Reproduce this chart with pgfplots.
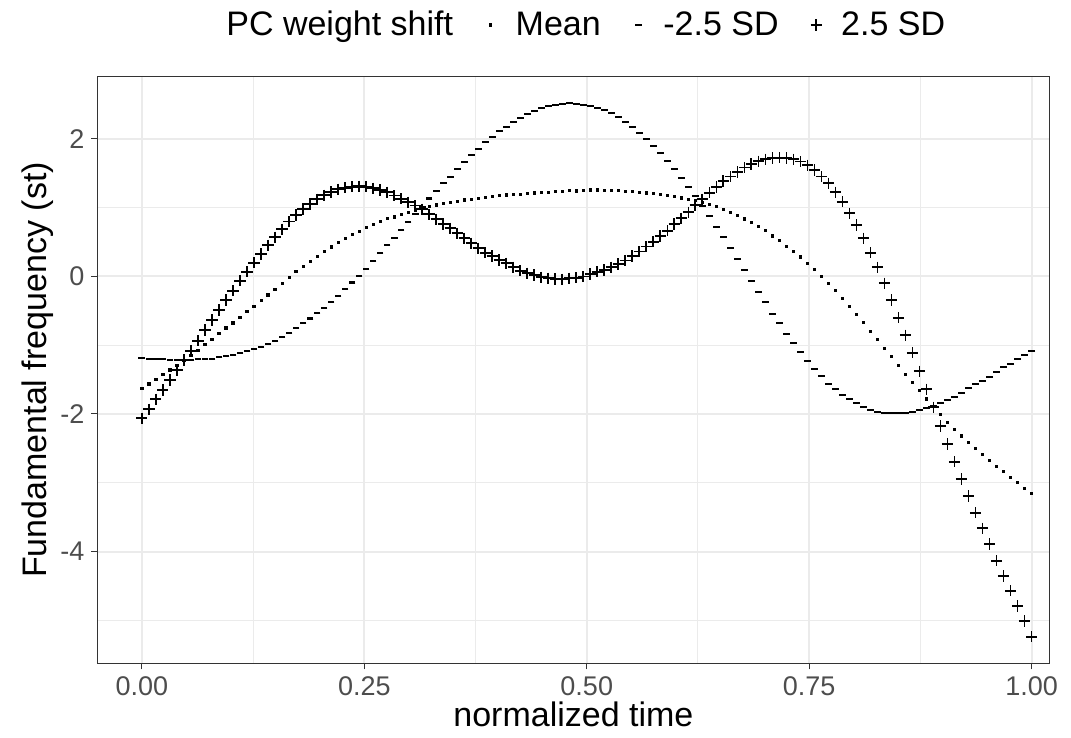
\documentclass[border=0pt]{standalone}
\usepackage{fontspec}
\setmainfont{Liberation Sans}
\usepackage{pgfplots}
\usepackage{pgfplotstable}
\pgfplotsset{compat=1.18}

\definecolor{gridcol}{HTML}{EBEBEB}
\definecolor{framecol}{HTML}{333333}
\definecolor{tickcol}{HTML}{4D4D4D}

% fitted PC curves, 128 samples on normalized time
\pgfplotstableread{
x      mean    minus   plus
0.0000 -1.628  -1.192  -2.064
0.0079 -1.565  -1.197  -1.933
0.0157 -1.495  -1.202  -1.788
0.0236 -1.430  -1.207  -1.653
0.0315 -1.362  -1.217  -1.507
0.0394 -1.290  -1.217  -1.362
0.0472 -1.217  -1.217  -1.217
0.0551 -1.147  -1.212  -1.081
0.0630 -1.072  -1.207  -0.936
0.0709 -0.992  -1.202  -0.781
0.0787 -0.916  -1.197  -0.635
0.0866 -0.834  -1.178  -0.490
0.0945 -0.751  -1.158  -0.344
0.1024 -0.677  -1.144  -0.209
0.1102 -0.592  -1.120  -0.064
0.1181 -0.507  -1.081   0.067
0.1260 -0.432  -1.062   0.198
0.1339 -0.350  -1.023   0.324
0.1417 -0.270  -0.989   0.450
0.1496 -0.185  -0.936   0.567
0.1575 -0.098  -0.878   0.683
0.1654 -0.013  -0.819   0.794
0.1732  0.068  -0.756   0.891
0.1811  0.147  -0.684   0.978
0.1890  0.219  -0.614   1.051
0.1969  0.291  -0.538   1.119
0.2047  0.356  -0.465   1.177
0.2126  0.428  -0.369   1.225
0.2205  0.489  -0.286   1.264
0.2283  0.550  -0.189   1.288
0.2362  0.606  -0.090   1.302
0.2441  0.656   0.004   1.308
0.2520  0.705   0.108   1.302
0.2598  0.753   0.227   1.279
0.2677  0.794   0.334   1.254
0.2756  0.836   0.450   1.221
0.2835  0.862   0.552   1.172
0.2913  0.901   0.673   1.128
0.2992  0.931   0.785   1.076
0.3071  0.964   0.901   1.027
0.3150  0.993   1.012   0.974
0.3228  1.017   1.131   0.903
0.3307  1.036   1.244   0.828
0.3386  1.056   1.352   0.760
0.3465  1.073   1.448   0.698
0.3543  1.090   1.555   0.625
0.3622  1.109   1.666   0.552
0.3701  1.122   1.763   0.480
0.3780  1.129   1.850   0.407
0.3858  1.146   1.948   0.343
0.3937  1.162   2.029   0.295
0.4016  1.175   2.112   0.237
0.4094  1.182   2.174   0.189
0.4173  1.189   2.247   0.131
0.4252  1.193   2.305   0.081
0.4331  1.202   2.359   0.044
0.4409  1.211   2.403   0.019
0.4488  1.214   2.442  -0.015
0.4567  1.223   2.475  -0.029
0.4646  1.228   2.494  -0.039
0.4724  1.233   2.509  -0.044
0.4803  1.243   2.514  -0.029
0.4882  1.242   2.504  -0.020
0.4961  1.245   2.494  -0.005
0.5039  1.254   2.475   0.033
0.5118  1.255   2.442   0.067
0.5197  1.253   2.413   0.092
0.5276  1.250   2.369   0.131
0.5354  1.245   2.311   0.179
0.5433  1.233   2.238   0.228
0.5512  1.231   2.166   0.295
0.5591  1.223   2.087   0.358
0.5669  1.211   1.991   0.431
0.5748  1.201   1.898   0.503
0.5827  1.192   1.797   0.586
0.5906  1.172   1.680   0.663
0.5984  1.160   1.560   0.760
0.6063  1.138   1.433   0.843
0.6142  1.116   1.302   0.930
0.6220  1.104   1.172   1.036
0.6299  1.071   1.022   1.119
0.6378  1.046   0.876   1.215
0.6457  1.010   0.721   1.298
0.6535  0.976   0.567   1.385
0.6614  0.932   0.416   1.448
0.6693  0.884   0.251   1.516
0.6772  0.833   0.087   1.579
0.6850  0.784  -0.064   1.632
0.6929  0.722  -0.228   1.671
0.7008  0.662  -0.378   1.701
0.7087  0.588  -0.544   1.719
0.7165  0.520  -0.684   1.724
0.7244  0.440  -0.839   1.719
0.7323  0.364  -0.974   1.701
0.7402  0.281  -1.105   1.666
0.7480  0.189  -1.235   1.613
0.7559  0.097  -1.352   1.545
0.7638 -0.003  -1.453   1.448
0.7717 -0.105  -1.561   1.352
0.7795 -0.211  -1.642   1.221
0.7874 -0.319  -1.721   1.084
0.7953 -0.436  -1.788   0.916
0.8031 -0.550  -1.846   0.746
0.8110 -0.672  -1.895   0.552
0.8189 -0.800  -1.943   0.343
0.8268 -0.919  -1.968   0.131
0.8346 -1.045  -1.987  -0.102
0.8425 -1.168  -1.991  -0.344
0.8504 -1.297  -1.991  -0.602
0.8583 -1.423  -1.987  -0.858
0.8661 -1.541  -1.972  -1.110
0.8740 -1.662  -1.943  -1.381
0.8819 -1.781  -1.919  -1.642
0.8898 -1.895  -1.885  -1.904
0.8976 -2.011  -1.846  -2.176
0.9055 -2.118  -1.798  -2.437
0.9134 -2.223  -1.750  -2.695
0.9213 -2.319  -1.692  -2.946
0.9291 -2.411  -1.628  -3.193
0.9370 -2.503  -1.570  -3.436
0.9449 -2.590  -1.517  -3.663
0.9528 -2.675  -1.459  -3.891
0.9606 -2.765  -1.395  -4.134
0.9685 -2.840  -1.323  -4.356
0.9764 -2.920  -1.270  -4.570
0.9843 -2.997  -1.202  -4.792
0.9921 -3.077  -1.144  -5.010
1.0000 -3.160  -1.081  -5.238
}\curves

\begin{document}
\begin{tikzpicture}
% page frame: panel lower left sits at (0,0)
\path[use as bounding box] (-48.7pt,-37.3pt) rectangle ++(535.5pt,369pt);
\begin{axis}[
  scale only axis, width=476pt, height=293.4pt,
  xmin=-0.05, xmax=1.02, ymin=-5.626, ymax=2.902,
  axis line style={framecol, line width=0.65pt},
  xtick={0,0.25,0.5,0.75,1}, xticklabels={0.00,0.25,0.50,0.75,1.00},
  ytick={-4,-2,0,2}, yticklabels={-4,-2,0,2},
  minor xtick={0.125,0.375,0.625,0.875}, minor ytick={-5,-3,-1,1},
  grid=both,
  major grid style={gridcol, line width=1pt},
  minor grid style={gridcol, line width=0.5pt},
  tick align=outside, major tick length=3pt, minor tick length=0pt,
  xtick pos=bottom, ytick pos=left,
  tick style={framecol, line width=0.6pt},
  ticklabel style={font=\fontsize{13.5}{16}\selectfont, color=tickcol},
  xlabel={normalized time}, ylabel={Fundamental frequency (st)},
  label style={font=\fontsize{17}{20}\selectfont},
  xlabel style={at={(axis description cs:0.5,-0.086)}, anchor=center},
  ylabel style={at={(axis description cs:-0.0624,0.5)}, anchor=center},
  legend image code/.code={%
    \path[draw=none, fill=none] (-4.8pt,-1pt) rectangle (10.5pt,1pt);
    \draw[#1] plot coordinates {(0pt,0pt)};},
  legend style={at={(axis description cs:0.513,1.088)}, anchor=center,
    draw=none, fill=none, legend columns=-1,
    font=\fontsize{17}{20}\selectfont,
    /tikz/every even column/.append style={column sep=12pt}},
]
\addlegendimage{empty legend}
\addlegendentry{PC weight shift}
\addplot[only marks, mark=square*, mark size=0.55pt, black] table[x=x, y=mean] {\curves};
\addlegendentry{Mean}
\addplot[only marks, mark=-, mark size=1.7pt, black, mark options={line width=1.1pt}] table[x=x, y=minus] {\curves};
\addlegendentry{-2.5 SD}
\addplot[only marks, mark=+, mark size=2.8pt, black, mark options={line width=0.85pt}] table[x=x, y=plus] {\curves};
\addlegendentry{2.5 SD}
\end{axis}
\end{tikzpicture}
\end{document}
